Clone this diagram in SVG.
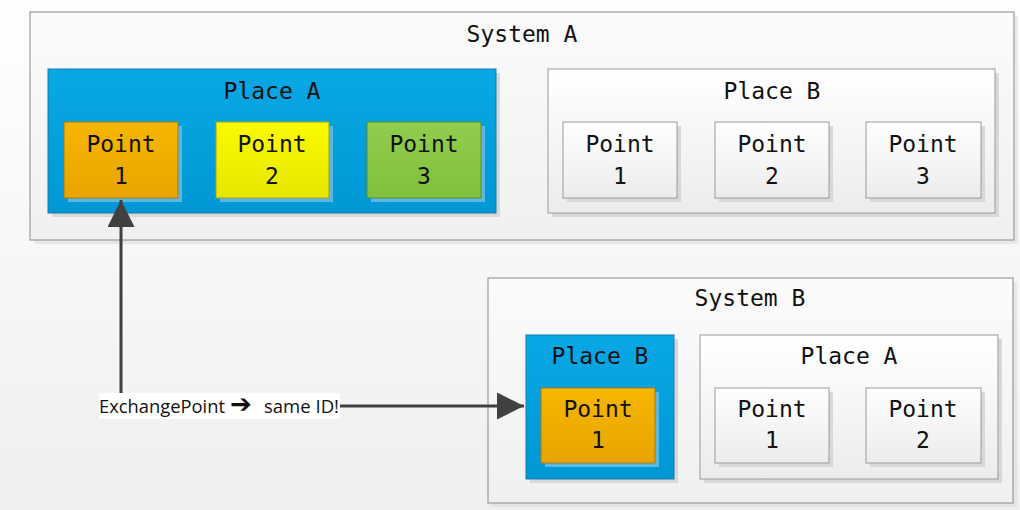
<svg xmlns="http://www.w3.org/2000/svg" width="1020" height="510" viewBox="0 0 1020 510">
<defs>
  <linearGradient id="bg" x1="0" y1="0" x2="0" y2="1">
    <stop offset="0" stop-color="#ffffff"/>
    <stop offset="1" stop-color="#efefef"/>
  </linearGradient>
  <linearGradient id="sys" x1="0" y1="0" x2="0" y2="1">
    <stop offset="0" stop-color="#fbfbfb"/>
    <stop offset="1" stop-color="#f0f0f0"/>
  </linearGradient>
  <linearGradient id="blue" x1="0" y1="0" x2="0" y2="1">
    <stop offset="0" stop-color="#08a8e4"/>
    <stop offset="1" stop-color="#0098d4"/>
  </linearGradient>
  <linearGradient id="orange" x1="0" y1="0" x2="0" y2="1">
    <stop offset="0" stop-color="#f7b600"/>
    <stop offset="1" stop-color="#e8a400"/>
  </linearGradient>
  <linearGradient id="yellow" x1="0" y1="0" x2="0" y2="1">
    <stop offset="0" stop-color="#fafa00"/>
    <stop offset="1" stop-color="#e6e600"/>
  </linearGradient>
  <linearGradient id="green" x1="0" y1="0" x2="0" y2="1">
    <stop offset="0" stop-color="#92cd4e"/>
    <stop offset="1" stop-color="#80c03c"/>
  </linearGradient>
  <linearGradient id="white" x1="0" y1="0" x2="0" y2="1">
    <stop offset="0" stop-color="#ffffff"/>
    <stop offset="1" stop-color="#ececec"/>
  </linearGradient>
  <marker id="arr" viewBox="0 0 10 10" refX="10" refY="5" markerWidth="9" markerHeight="9" markerUnits="strokeWidth" orient="auto">
    <path d="M0,0 L10,5 L0,10 z" fill="#404040"/>
  </marker>
</defs>
<style>
  .sys { fill: url(#sys); stroke: #9a9a9a; stroke-width: 1.2; }
  .plw { fill: url(#white); stroke: #9a9a9a; stroke-width: 1; }
  .plb { fill: url(#blue); stroke: #1a7aa8; stroke-width: 1; }
  .shadow { fill: #d8d8d8; }
  .shb { fill: #5ab8e0; }
  .ptw { fill: url(#white); stroke: #9a9a9a; stroke-width: 1; }
  .pto { fill: url(#orange); stroke: #a57a10; stroke-width: 1; }
  .pty { fill: url(#yellow); stroke: #a0a020; stroke-width: 1; }
  .ptg { fill: url(#green); stroke: #5a8a30; stroke-width: 1; }
  .t { font-family: "DejaVu Sans Mono", "Liberation Mono", monospace; font-size: 23px; fill: #111; text-anchor: middle; }
  .lbl { font-family: "Open Sans", "Liberation Sans", sans-serif; font-size: 19px; fill: #111; }
  .conn { stroke: #404040; stroke-width: 3; fill: none; }
</style>
<rect width="1020" height="510" fill="url(#bg)"/>

<g id="systemA">
  <rect x="34" y="16" width="984" height="228" class="shadow" opacity="0.5"/>
  <rect x="30" y="12" width="984" height="228" class="sys"/>
  <text x="522" y="42" class="t">System A</text>
</g>

<g id="systemA-placeA">
  <rect x="52" y="73" width="448" height="144" class="shadow"/>
  <rect x="48" y="69" width="448" height="144" class="plb"/>
  <text x="272" y="99" class="t">Place A</text>
</g>
<g id="systemA-placeA-point1">
  <rect x="68" y="126" width="114" height="76" class="shb"/>
  <rect x="64" y="122" width="114" height="76" class="pto"/>
  <text x="121" y="152" class="t">Point</text>
  <text x="121" y="184" class="t">1</text>
</g>
<g id="systemA-placeA-point2">
  <rect x="220" y="126" width="113" height="76" class="shb"/>
  <rect x="216" y="122" width="113" height="76" class="pty"/>
  <text x="272" y="152" class="t">Point</text>
  <text x="272" y="184" class="t">2</text>
</g>
<g id="systemA-placeA-point3">
  <rect x="371" y="126" width="114" height="76" class="shb"/>
  <rect x="367" y="122" width="114" height="76" class="ptg"/>
  <text x="424" y="152" class="t">Point</text>
  <text x="424" y="184" class="t">3</text>
</g>

<g id="systemA-placeB">
  <rect x="552" y="73" width="447" height="144" class="shadow"/>
  <rect x="548" y="69" width="447" height="144" class="plw"/>
  <text x="772" y="99" class="t">Place B</text>
</g>
<g id="systemA-placeB-point1">
  <rect x="567" y="126" width="114" height="76" class="shadow"/>
  <rect x="563" y="122" width="114" height="76" class="ptw"/>
  <text x="620" y="152" class="t">Point</text>
  <text x="620" y="184" class="t">1</text>
</g>
<g id="systemA-placeB-point2">
  <rect x="719" y="126" width="114" height="76" class="shadow"/>
  <rect x="715" y="122" width="114" height="76" class="ptw"/>
  <text x="772" y="152" class="t">Point</text>
  <text x="772" y="184" class="t">2</text>
</g>
<g id="systemA-placeB-point3">
  <rect x="870" y="126" width="115" height="76" class="shadow"/>
  <rect x="866" y="122" width="115" height="76" class="ptw"/>
  <text x="923" y="152" class="t">Point</text>
  <text x="923" y="184" class="t">3</text>
</g>

<g id="systemB">
  <rect x="492" y="282" width="525" height="225" class="shadow" opacity="0.5"/>
  <rect x="488" y="278" width="525" height="225" class="sys"/>
  <text x="750" y="306" class="t">System B</text>
</g>
<g id="systemB-placeB">
  <rect x="530" y="339" width="148" height="144" class="shadow"/>
  <rect x="526" y="335" width="148" height="144" class="plb"/>
  <text x="600" y="364" class="t">Place B</text>
</g>
<g id="systemB-placeB-point1">
  <rect x="545" y="392" width="114" height="75" class="shb"/>
  <rect x="541" y="388" width="114" height="75" class="pto"/>
  <text x="598" y="417" class="t">Point</text>
  <text x="598" y="448" class="t">1</text>
</g>
<g id="systemB-placeA">
  <rect x="704" y="339" width="298" height="144" class="shadow"/>
  <rect x="700" y="335" width="298" height="144" class="plw"/>
  <text x="849" y="364" class="t">Place A</text>
</g>
<g id="systemB-placeA-point1">
  <rect x="719" y="392" width="114" height="75" class="shadow"/>
  <rect x="715" y="388" width="114" height="75" class="ptw"/>
  <text x="772" y="417" class="t">Point</text>
  <text x="772" y="448" class="t">1</text>
</g>
<g id="systemB-placeA-point2">
  <rect x="870" y="392" width="115" height="75" class="shadow"/>
  <rect x="866" y="388" width="115" height="75" class="ptw"/>
  <text x="923" y="417" class="t">Point</text>
  <text x="923" y="448" class="t">2</text>
</g>

<g id="connectors">
  <line x1="121" y1="394" x2="121" y2="200" class="conn" marker-end="url(#arr)"/>
  <line x1="340" y1="406" x2="524" y2="406" class="conn" marker-end="url(#arr)"/>
  <g id="exchange-label">
    <rect x="99" y="393" width="241" height="26" fill="#ffffff"/>
    <text y="413" class="lbl"><tspan x="99" textLength="126" lengthAdjust="spacingAndGlyphs">ExchangePoint</tspan><tspan x="230" font-weight="bold" font-size="26" font-family="DejaVu Sans, sans-serif">➔</tspan><tspan x="264" textLength="75" lengthAdjust="spacingAndGlyphs">same ID!</tspan></text>
  </g>
</g>
</svg>
